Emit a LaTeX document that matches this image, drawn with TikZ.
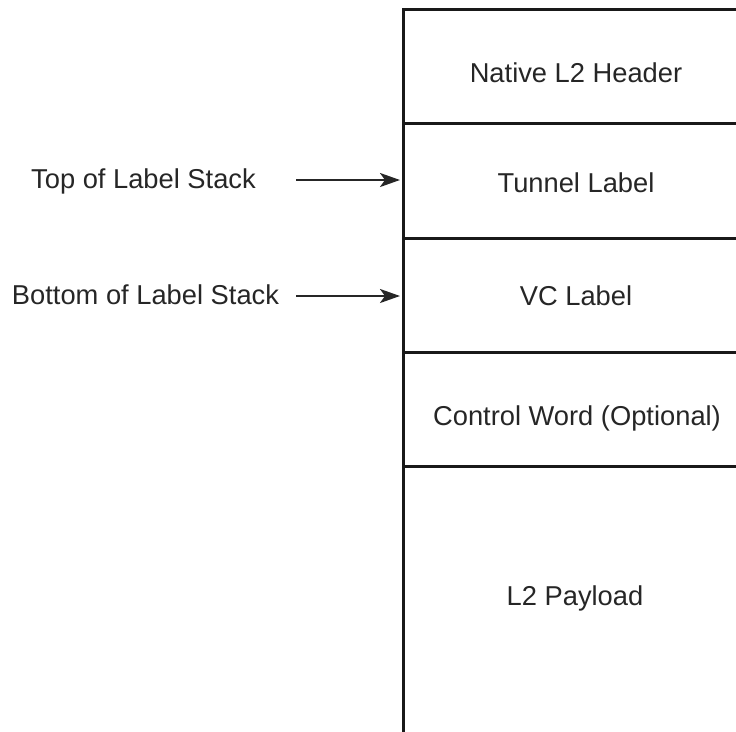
\documentclass[tikz,border=0pt]{standalone}
\usepackage{fontspec}
\setmainfont{Liberation Sans}
\usetikzlibrary{arrows.meta}
\begin{document}
\begin{tikzpicture}[x=1pt,y=-1pt,
  cell/.style={draw=black!90, line width=3pt, minimum width=420pt, anchor=north west, inner sep=0pt, outer sep=0pt},
  txt/.style={font=\fontsize{27.3}{32}\selectfont, text=black!85, inner sep=0pt, anchor=base},
  arr/.style={draw=black!85, line width=2.5pt, -{Stealth[length=20pt,width=14pt,inset=5pt]}, shorten >=3pt}]
\useasboundingbox (0,0) rectangle (736,731);
\clip (0,0) rectangle (736,731);
\node[cell, minimum height=114pt] (c1) at (403,9) {};
\node[cell, minimum height=115pt] (c2) at (c1.south west) {};
\node[cell, minimum height=114pt] (c3) at (c2.south west) {};
\node[cell, minimum height=114pt] (c4) at (c3.south west) {};
\node[cell, minimum height=300pt] (c5) at (c4.south west) {};
\node[txt] (t1) at (576,82) {Native L2 Header};
\node[txt] (t2) at (576,192) {Tunnel Label};
\node[txt] (t3) at (576,305) {VC Label};
\node[txt] (t4) at (577,425) {Control Word (Optional)};
\node[txt] (t5) at (575,605) {L2 Payload};
\node[txt] (l1) at (143.5,188) {Top of Label Stack};
\node[txt] (l2) at (145.5,304) {Bottom of Label Stack};
\coordinate (a1) at (296,180);
\coordinate (a2) at (296,296);
\draw[arr] (a1) -- (a1 -| c2.west);
\draw[arr] (a2) -- (a2 -| c3.west);
\end{tikzpicture}
\end{document}
